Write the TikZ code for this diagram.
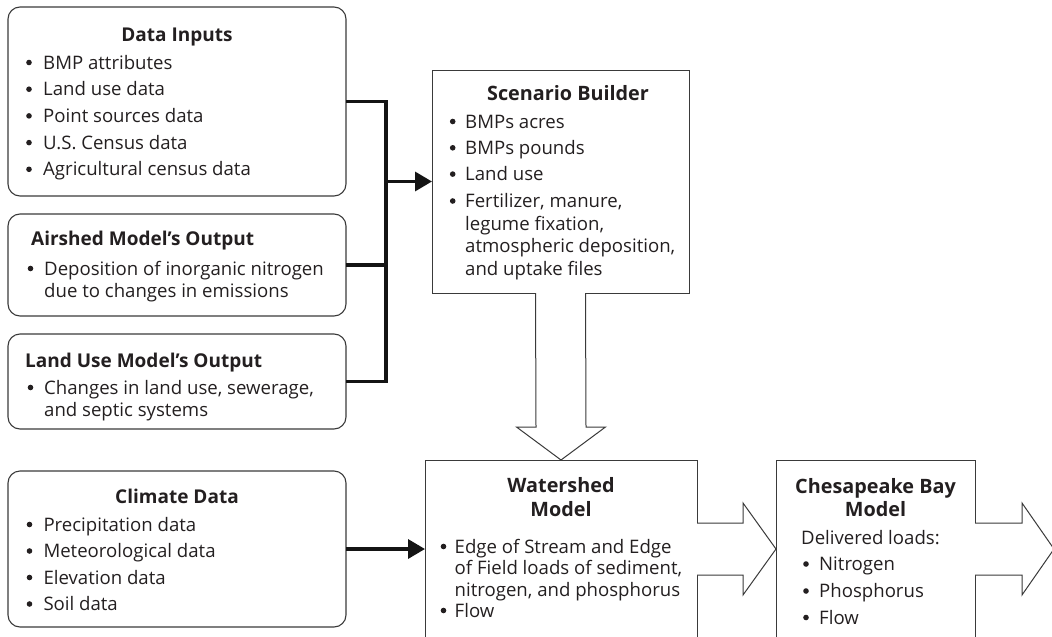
\documentclass[tikz,border=0pt]{standalone}
\usepackage{fontspec}
\setmainfont{Open Sans}
\usetikzlibrary{arrows.meta,calc}
\definecolor{ink}{HTML}{231F20}
\definecolor{edgec}{HTML}{3A3A3A}
\newcommand{\diafont}{\fontsize{18.6}{22}\selectfont}
\newcommand{\ttlfont}{\fontsize{19.8}{22}\selectfont\bfseries}
\newcommand{\ttlfontsm}{\fontsize{19}{22}\selectfont\bfseries}
\newcommand{\bitem}[5]{%
  \node[bulc] (#1b) at (#2,#4-6.5) {};
  \node[itm] (#1) at (#3,#4) {#5};}
\tikzset{
  rbox/.style={draw=edgec, line width=1.1pt, rounded corners=12pt, anchor=north west, inner sep=0pt, outer sep=0pt},
  sbox/.style={draw=edgec, line width=1pt, anchor=north west, inner sep=0pt, outer sep=0pt},
  ttl/.style={font=\ttlfont, text=ink, inner sep=0pt, anchor=base},
  ttls/.style={ttl, font=\ttlfontsm},
  ttlw/.style={ttls, anchor=base west},
  itm/.style={font=\diafont, text=ink, inner sep=0pt, anchor=base west},
  bulc/.style={circle, fill=ink, inner sep=0pt, minimum size=5.6pt},
  conn/.style={line width=3.4pt, draw=black!92, line join=miter},
  tip/.style={-{Triangle[length=17pt,width=19pt]}},
  barrow/.style={draw=edgec, line width=1pt, fill=white, line join=miter},
}
\begin{document}
\begin{tikzpicture}[x=1pt,y=-1pt]
\useasboundingbox (0,0) rectangle (1052,637);
% boxes
\node[rbox, minimum width=338pt, minimum height=189pt] (di) at (8,7) {};
\node[rbox, minimum width=338pt, minimum height=102pt] (air) at (8,214) {};
\node[rbox, minimum width=338pt, minimum height=95pt] (lu) at (8,334) {};
\node[rbox, minimum width=338pt, minimum height=156pt] (cl) at (8,471) {};
\node[sbox, minimum width=257pt, minimum height=223pt] (sb) at (432,70) {};
\node[sbox, minimum width=272pt, minimum height=178pt] (ws) at (425,460) {};
\node[sbox, minimum width=199pt, minimum height=178pt] (ch) at (776,460) {};
% connectors
\coordinate (bus) at ($(di.east)+(40,0)$);
\draw[conn] (di.east) -| ($(lu.east)+(40,0)$) -- (lu.east);
\draw[conn] (air.east) -- (air.east -| bus);
\draw[conn,tip] (sb.west -| bus) -- (sb.west);
\draw[conn,tip] (cl.east) -- (ws.west);
% block arrow down
\fill[white] ($(sb.south)+(-24.5,-2)$) rectangle ($(sb.south)+(24.5,1.5)$);
\draw[barrow] ($(sb.south)+(-25,0)$) -- ($(ws.north)+(-25,-33)$) -- ($(ws.north)+(-44.5,-33)$)
  -- (ws.north) -- ($(ws.north)+(44.5,-33)$) -- ($(ws.north)+(25,-33)$) -- ($(sb.south)+(25,0)$);
% block arrow right 1
\fill[white] ($(ws.east)+(-1.5,-25.5)$) rectangle ($(ws.east)+(2,25.5)$);
\draw[barrow] ($(ws.east)+(0,-26)$) -- ($(ch.west)+(-33,-26)$) -- ($(ch.west)+(-33,-46)$)
  -- (ch.west) -- ($(ch.west)+(-33,46)$) -- ($(ch.west)+(-33,26)$) -- ($(ws.east)+(0,26)$);
% block arrow right 2
\coordinate (out) at ($(ch.east)+(79,0)$);
\fill[white] ($(ch.east)+(-1.5,-25.5)$) rectangle ($(ch.east)+(2,25.5)$);
\draw[barrow] ($(ch.east)+(0,-26)$) -- ($(out)+(-32,-26)$) -- ($(out)+(-32,-46)$)
  -- (out) -- ($(out)+(-32,46)$) -- ($(out)+(-32,26)$) -- ($(ch.east)+(0,26)$);
% Data Inputs
\node[ttls] (diT) at (177,41) {Data Inputs};
\bitem{di1}{29}{43}{69}{BMP attributes}
\bitem{di2}{29}{43}{95.7}{Land use data}
\bitem{di3}{29}{43}{122.4}{Point sources data}
\bitem{di4}{29}{43}{149.1}{U.S. Census data}
\bitem{di5}{29}{43}{175.8}{Agricultural census data}
% Airshed
\node[ttlw] (airT) at (31,245) {Airshed Model’s Output};
\bitem{air1}{30.5}{44}{275}{Deposition of inorganic nitrogen}
\node[itm] (air2) at (44,297) {due to changes in emissions};
% Land use
\node[ttlw] (luT) at (25,367) {Land Use Model’s Output};
\bitem{lu1}{30.5}{44}{394}{Changes in land use, sewerage,}
\node[itm] (lu2) at (44,416) {and septic systems};
% Climate
\node[ttls] (clT) at (177,503) {Climate Data};
\bitem{cl1}{29.5}{43.3}{531}{Precipitation data}
\bitem{cl2}{29.5}{43.3}{557.5}{Meteorological data}
\bitem{cl3}{29.5}{43.3}{584}{Elevation data}
\bitem{cl4}{29.5}{43.3}{610.5}{Soil data}
% Scenario Builder
\node[ttl] (sbT) at (568,100.5) {Scenario Builder};
\bitem{sb1}{452.7}{465}{128}{BMPs acres}
\bitem{sb2}{452.7}{465}{154.3}{BMPs pounds}
\bitem{sb3}{452.7}{465}{180.6}{Land use}
\bitem{sb4}{452.7}{465}{207.5}{Fertilizer, manure,}
\node[itm] (sb5) at (465,230) {legume fixation,};
\node[itm] (sb6) at (465,252.5) {atmospheric deposition,};
\node[itm] (sb7) at (465,275) {and uptake files};
% Watershed
\node[ttl] (wsT1) at (561,492) {Watershed};
\node[ttl] (wsT2) at (561,516.5) {Model};
\bitem{ws1}{443.5}{454.5}{553}{Edge of Stream and Edge}
\node[itm] (ws2) at (454.5,574.5) {of Field loads of sediment,};
\node[itm] (ws3) at (454.5,596) {nitrogen, and phosphorus};
\bitem{ws4}{443.5}{454.5}{617}{Flow}
% Chesapeake
\node[ttl] (chT1) at (875.5,493) {Chesapeake Bay};
\node[ttl] (chT2) at (875.5,516) {Model};
\node[itm] (ch0) at (801,544.5) {Delivered loads:};
\bitem{ch1}{806}{819}{570.5}{Nitrogen}
\bitem{ch2}{806}{819}{597.5}{Phosphorus}
\bitem{ch3}{806}{819}{624}{Flow}
\end{tikzpicture}
\end{document}
